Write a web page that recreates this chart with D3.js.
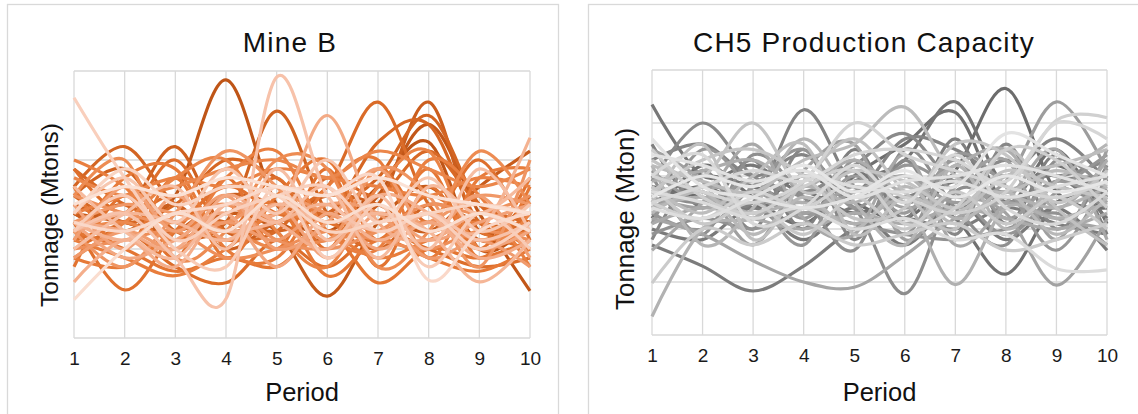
<!DOCTYPE html>
<html><head><meta charset="utf-8">
<script src="https://cdn.jsdelivr.net/npm/d3@7"></script>
<style>body{margin:0;background:#fff}svg{display:block}</style>
</head><body>
<svg id="c" width="1138" height="414"></svg>
<script>
// ---------- data ----------
const periods = [1, 2, 3, 4, 5, 6, 7, 8, 9, 10];
const periodLabels = ["1","2","3","4","5","6","7","8","9","10"];
const mineBGrid = [0, 10, 20, 30];          // Mtons, unlabeled gridlines
const ch5Grid = [0, 10, 20, 30, 40, 50];     // Mton, unlabeled gridlines
const titles = ["Mine B", "CH5 Production Capacity"];
const yTitles = ["Tonnage (Mtons)", "Tonnage (Mton)"];
const xTitle = "Period";

// Mine B simulations (ordered dark -> light)
const mineBSeries = [
  [14, 12, 16, 29, 15, 12, 17, 22, 10, 13],
  [15, 13, 12, 14, 13, 11, 16, 24, 14, 5.3],
  [12, 15, 11, 14, 12, 4.7, 13, 17, 11, 12],
  [14, 13, 12, 16, 15, 13, 14, 12, 17, 21],
  [14, 12, 15, 10, 13, 14, 15, 26.5, 12, 16],
  [15, 14, 21.5, 12, 13, 16, 15, 12, 14, 13],
  [16, 19, 12, 13, 25.5, 14, 10, 15, 13, 12],
  [17, 21.5, 15, 13, 12, 14, 18, 25, 15, 12],
  [16, 13, 15, 20, 18, 14, 22, 24, 13, 12],
  [19, 15, 13, 11, 12, 18, 16, 21, 15, 13],
  [11, 13, 16, 12, 14, 17, 26.5, 15, 11, 14],
  [10, 12, 8, 6.2, 11, 8, 12, 10, 8, 9],
  [19, 14, 20, 12, 18, 10, 19, 13, 20, 11],
  [13, 5.4, 12, 17, 14, 13, 11, 16, 12, 10],
  [8, 16, 9, 18, 10, 19, 8, 17, 10, 18],
  [12, 10, 7.5, 9, 8, 12, 6.2, 10, 9, 11],
  [17, 10, 18, 9, 16, 20, 11, 19, 9, 17],
  [9, 8, 12, 13, 15, 7, 11, 9, 7.5, 10],
  [11, 18, 19, 10, 9, 17, 20, 9, 18, 19],
  [11, 9, 7, 10, 14, 12, 9, 11, 13, 10],
  [20, 17, 11, 18, 21, 12, 10, 20, 16, 8],
  [14, 16, 18, 17, 19, 18, 17, 16, 18, 17],
  [9, 13, 18, 20, 12, 8, 17, 21, 10, 14],
  [18, 16, 17, 19, 20, 18, 21, 19, 17, 19],
  [12, 13, 11, 12, 10, 11, 12, 13, 11, 12],
  [16, 20, 9, 12, 20, 19, 8, 12, 21, 15],
  [10, 11, 12, 9, 10, 12, 11, 10, 12, 11],
  [16, 14, 13, 15, 11, 10, 12, 15, 14, 16],
  [12, 8, 14, 21, 17, 11, 19, 16, 8, 20],
  [13, 15, 14, 13, 16, 14, 12, 13, 16, 15],
  [9, 12, 10, 13, 11, 15, 14, 9, 11, 8],
  [11, 17, 12, 16, 10, 13, 19, 12, 16, 9],
  [15, 10, 16, 11, 15, 9, 14, 11, 13, 15],
  [13, 9, 11, 14, 8, 14, 10, 13, 10, 12],
  [13, 12, 10, 16, 14, 25, 13, 11, 14, 12],
  [6.3, 11, 8, 15, 13, 10, 16, 14, 9, 11],
  [13, 11, 14, 12, 13, 15, 11, 14, 12, 22.5],
  [12, 14, 13, 11, 15, 13, 14, 12, 6.3, 11],
  [17, 12, 9, 15, 13, 17, 9, 17, 14, 18],
  [10, 14, 17, 10, 19, 11, 16, 10, 19, 12],
  [12, 14, 9, 4.4, 29.3, 16, 12, 14, 11, 13],
  [14, 18, 13, 19, 14, 20, 13, 18, 12, 15],
  [12, 16, 10, 8, 17, 9, 15, 8, 14, 10],
  [27, 18, 11, 14, 16, 17, 12, 14, 10, 13],
  [14, 19, 15, 17, 16, 12, 13, 14, 15, 14],
  [13, 12, 14, 15, 17, 16, 18, 6.5, 12, 14],
  [4.3, 10, 14, 12, 16, 13, 15, 12, 14, 12],
  [15, 17, 16, 18, 17, 16, 18, 16, 15, 14]
];

// CH5 production capacity simulations (ordered dark -> light)
const ch5Series = [
  [28, 26, 24, 30, 25, 22, 31, 46.5, 27, 24],
  [22, 32, 26, 21, 30, 36, 42, 25, 35, 21],
  [25, 28, 24, 27, 23, 26, 22, 11.5, 25, 27],
  [26, 30, 28, 25, 29, 33, 44, 28, 32, 26],
  [43.5, 30, 32, 27, 31, 25, 29, 27, 30, 22],
  [20, 18, 24, 18, 24, 17, 25, 18, 24, 16],
  [17, 13, 8.3, 13, 20, 22, 20, 24, 21, 19],
  [36, 24, 33, 20, 35, 22, 37, 21, 34, 19],
  [30, 27, 25, 42.5, 28, 26, 30, 25, 29, 30],
  [33, 36, 30, 34, 27, 37, 35, 30, 37, 29],
  [18, 31, 20, 35, 18, 33, 19, 36, 20, 32],
  [29, 40, 30, 27, 32, 38, 29, 33, 30, 33],
  [27, 25, 29, 26, 24, 7.8, 27, 25, 28, 24],
  [30, 19, 34, 26, 16, 35, 24, 17, 33, 27],
  [19, 22, 20, 23, 21, 19, 18, 20, 23, 17],
  [23, 20, 28, 35, 24, 32, 27, 19, 27, 34],
  [21, 35, 27, 17, 33, 19, 34, 28, 16, 30],
  [31, 25, 29, 22, 30, 23, 33, 22, 29, 25],
  [24, 28, 26, 23, 27, 30, 25, 29, 44, 31],
  [35, 29, 17, 31, 36, 18, 28, 33, 18, 35],
  [26, 24, 27, 23, 28, 24, 26, 23, 9.4, 22],
  [22, 19, 14, 10, 9, 15, 22, 25, 22, 20],
  [16, 25, 36, 22, 19, 34, 17, 25, 35, 18],
  [21, 24, 22, 20, 23, 21, 24, 22, 20, 23],
  [29, 31, 33, 28, 33, 27, 32, 35, 24, 33],
  [24, 26, 23, 25, 21, 25, 9.5, 24, 22, 25],
  [3.5, 20, 22, 28, 25, 30, 22, 26, 24, 28],
  [32, 17, 24, 37, 25, 17, 32, 20, 29, 36],
  [23, 27, 19, 26, 20, 28, 21, 27, 19, 26],
  [32, 29, 27, 33, 36, 43, 30, 27, 31, 28],
  [28, 23, 30, 36, 19, 26, 23, 30, 32, 35],
  [25, 36, 18, 29, 37, 27, 20, 35, 24, 17],
  [33, 30, 40, 27, 31, 29, 24, 31, 28, 26],
  [27, 33, 35, 30, 22, 24, 36, 34, 25, 31],
  [28, 21, 25, 19, 26, 20, 27, 21, 26, 20],
  [9.8, 20, 17, 21, 17, 19, 21, 16, 18, 21],
  [35, 26, 23, 28, 31, 21, 24, 35, 33, 24],
  [25, 22, 27, 24, 29, 26, 23, 27, 40.5, 41],
  [30, 27, 25, 29, 40, 34, 31, 28, 26, 29],
  [25, 28, 31, 29, 34, 35, 33, 29, 40, 37],
  [30, 34, 21, 24, 32, 25, 34, 24, 21, 27],
  [27, 25, 22, 24, 20, 22, 18, 19, 12.5, 12.3],
  [24, 22, 26, 30, 28, 27, 29, 26, 28, 30],
  [34, 32, 29, 31, 26, 29, 30, 32, 30, 27],
  [37, 28, 26, 24, 26, 30, 28, 38, 34, 30],
  [26, 30, 28, 32, 27, 31, 26, 30, 27, 29]
];

// ---------- drawing ----------
const svg = d3.select("#c");
const gridColor = "#d9d9d9";
const font = "Liberation Sans, Arial, sans-serif";

const panels = [
  { series: mineBSeries, grid: mineBGrid, title: titles[0], yTitle: yTitles[0],
    box: [7.5, 4.5, 551, 430], x0: 74, x1: 530, y0: 71, y1: 338,
    titleX: 290, yTitleX: 58, yTitleY: 215, yTitleSize: 24.5,
    colors: d3.interpolateRgbBasis(["#bf5517", "#e2702a", "#ec8445", "#f4ad8c", "#fbe1d5"]) },
  { series: ch5Series, grid: ch5Grid, title: titles[1], yTitle: yTitles[1],
    box: [588.5, 4.5, 560, 430], x0: 652, x1: 1107, y0: 70, y1: 335,
    titleX: 864, yTitleX: 634, yTitleY: 219, yTitleSize: 26,
    colors: d3.interpolateRgb("#6c6c6c", "#e6e6e6") }
];

panels.forEach(p => {
  const g = svg.append("g");
  g.append("rect").attr("x", p.box[0]).attr("y", p.box[1])
    .attr("width", p.box[2]).attr("height", p.box[3])
    .attr("fill", "#fff").attr("stroke", gridColor).attr("stroke-width", 1.3);

  const x = d3.scaleLinear().domain([1, 10]).range([p.x0, p.x1]);
  const y = d3.scaleLinear().domain(d3.extent(p.grid)).range([p.y1, p.y0]);

  // gridlines
  g.append("g").selectAll("line").data(periods).join("line")
    .attr("x1", d => x(d)).attr("x2", d => x(d))
    .attr("y1", p.y0).attr("y2", p.y1)
    .attr("stroke", gridColor).attr("stroke-width", 1.3);
  g.append("g").selectAll("line").data(p.grid).join("line")
    .attr("x1", p.x0).attr("x2", p.x1)
    .attr("y1", d => y(d)).attr("y2", d => y(d))
    .attr("stroke", gridColor).attr("stroke-width", 1.3);

  // x tick labels
  const ax = g.append("g").attr("transform", `translate(0,${p.y1})`)
    .call(d3.axisBottom(x).tickValues(periods).tickFormat((d, i) => periodLabels[i])
      .tickSize(0).tickPadding(14));
  ax.select(".domain").remove();
  ax.selectAll("text").attr("font-family", font)
    .attr("font-size", 19).attr("fill", "#1a1a1a");

  // lines
  const line = d3.line().x((d, i) => x(periods[i])).y(d => y(d)).curve(d3.curveCardinal.tension(0));
  const n = p.series.length;
  g.append("g").selectAll("path").data(p.series).join("path")
    .attr("d", line)
    .attr("fill", "none")
    .attr("stroke", (d, i) => p.colors(i / (n - 1)))
    .attr("stroke-width", 3.2)
    .attr("stroke-linejoin", "round");

  // titles
  g.append("text").attr("x", p.titleX).attr("y", 52).attr("text-anchor", "middle")
    .attr("font-family", font).attr("font-size", 28)
    .attr("letter-spacing", 1.2).attr("fill", "#111").text(p.title);
  g.append("text").attr("x", (p.x0 + p.x1) / 2).attr("y", 401).attr("text-anchor", "middle")
    .attr("font-family", font).attr("font-size", 25.5)
    .attr("fill", "#111").text(xTitle);
  g.append("text")
    .attr("transform", `translate(${p.yTitleX},${p.yTitleY}) rotate(-90)`)
    .attr("text-anchor", "middle")
    .attr("font-family", font).attr("font-size", p.yTitleSize)
    .attr("fill", "#111").text(p.yTitle);
});
</script>
</body></html>
